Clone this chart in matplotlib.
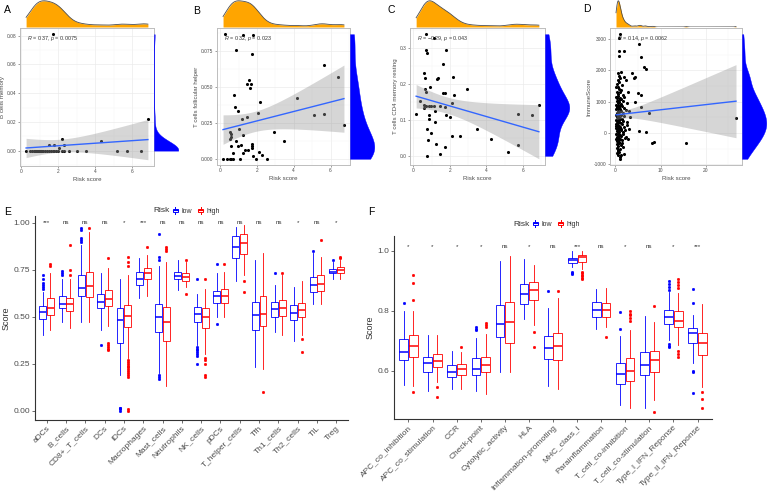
import numpy as np
import matplotlib
matplotlib.use("Agg")
import matplotlib.pyplot as plt
from matplotlib.patches import Rectangle, Patch
from matplotlib.lines import Line2D
from matplotlib.legend_handler import HandlerBase
from matplotlib.ticker import AutoMinorLocator, FormatStrFormatter

W, H = 768, 499
LOW = "#0000FF"
HIGH = "#FF0000"
TXT = "#4D4D4D"

# ---- scatter panels (A-D) ----
a_x = [1.70, 6.85, 4.30, 2.19, 2.33, 1.52, 1.79, 2.06,
       0.27, 0.5, 0.6, 0.7, 0.75, 0.8, 0.85, 0.9, 0.95, 1.0, 1.05, 1.1, 1.15, 1.2,
       1.3, 1.4, 1.5, 1.6, 1.7, 1.8, 1.9, 2.0, 2.2, 2.3, 2.6, 3.0, 3.5, 5.2, 5.7, 6.5]
a_y = [0.081, 0.0217, 0.0067, 0.008, 0.0041, 0.0037, 0.0041, 0.002,
       0, 0, 0, 0, 0, 0, 0, 0, 0, 0, 0, 0, 0, 0,
       0, 0, 0, 0, 0, 0, 0, 0, 0, 0, 0, 0, 0, 0, 0, 0]

b_x = [0.24, 1.21, 1.79, 0.88, 1.74, 5.63, 6.40, 1.57, 1.66, 1.43, 1.61, 0.77, 2.16, 4.20,
       0.79, 0.97, 2.07, 1.48, 1.19, 5.12, 5.63, 6.73, 1.02, 0.51, 0.60, 2.93, 0.60, 0.55,
       3.44, 0.88, 1.21, 1.15, 0.60, 0.97, 1.70, 1.74, 1.37, 1.52, 2.08, 0.69, 1.24, 2.25,
       1.76, 1.70, 0.15, 0.37, 0.51, 0.60, 0.69, 1.06, 1.97, 2.52]
b_y = [0.0868, 0.086, 0.086, 0.076, 0.073, 0.0656, 0.0568, 0.0547, 0.0524, 0.0524, 0.0495,
       0.0446, 0.0396, 0.0422, 0.0363, 0.0333, 0.0321, 0.0292, 0.0278, 0.0304, 0.0309, 0.0236,
       0.0208, 0.0189, 0.0175, 0.0184, 0.0153, 0.0137, 0.0123, 0.0127, 0.0165, 0.0099, 0.0087,
       0.0087, 0.0106, 0.009, 0.0061, 0.0061, 0.0047, 0.0042, 0.0038, 0.0028, 0.0019, 0.0075,
       0, 0, 0, 0, 0, 0, 0, 0]

c_x = [0.16, 0.72, 1.11, 0.72, 0.75, 1.80, 1.62, 0.61, 0.63, 1.38, 1.29, 2.19, 0.93, 0.66,
       0.70, 1.60, 1.74, 2.94, 2.24, 0.39, 0.57, 0.72, 0.84, 0.97, 1.11, 1.47, 1.74, 2.10,
       0.57, 1.20, 0.84, 1.80, 2.01, 6.86, 5.73, 6.50, 0.88, 1.20, 3.48, 0.75, 0.79, 0.97,
       2.14, 2.55, 4.25, 1.24, 1.74, 5.73, 1.47, 5.19, 0.75]
c_y = [0.117, 0.339, 0.329, 0.295, 0.287, 0.295, 0.255, 0.232, 0.218, 0.218, 0.214, 0.220,
       0.192, 0.187, 0.178, 0.175, 0.175, 0.185, 0.169, 0.152, 0.141, 0.140, 0.140, 0.140,
       0.140, 0.138, 0.135, 0.147, 0.133, 0.125, 0.114, 0.114, 0.109, 0.141, 0.116, 0.114,
       0.102, 0.095, 0.075, 0.075, 0.045, 0.064, 0.055, 0.055, 0.048, 0.033, 0.025, 0.029,
       0.005, 0.012, 0.0]

# dense cloud (grouped by score band) followed by the scattered points
d_x = [0.5, 0.8, 1.3, 2.0,
       0.35, 0.6, 0.9, 1.1, 1.5, 2.4,
       0.25, 0.45, 0.55, 0.7, 0.9, 1.05, 1.3, 1.7, 2.8,
       0.2, 0.3, 0.4, 0.5, 0.6, 0.75, 0.85, 1.0, 1.15, 1.35, 1.6, 2.0, 2.6,
       0.15, 0.25, 0.35, 0.4, 0.5, 0.55, 0.65, 0.7, 0.8, 0.9, 1.0, 1.1, 1.25, 1.4, 1.6, 1.9, 2.3, 3.0,
       0.15, 0.2, 0.3, 0.35, 0.4, 0.45, 0.5, 0.55, 0.6, 0.65, 0.7, 0.75, 0.8, 0.9, 1.0, 1.1, 1.2,
       1.3, 1.5, 1.75, 2.0, 2.5,
       0.15, 0.2, 0.25, 0.3, 0.4, 0.45, 0.5, 0.55, 0.6, 0.7, 0.75, 0.8, 0.9, 1.0, 1.1, 1.2, 1.3,
       1.4, 1.6, 1.9, 2.2, 2.6,
       0.2, 0.25, 0.35, 0.45, 0.5, 0.6, 0.7, 0.8, 0.9, 0.95, 1.1, 1.3, 1.5, 1.8, 2.1, 2.4,
       0.3, 0.4, 0.5, 0.6, 0.65, 0.8, 1.0, 1.2, 1.4, 1.6,
       0.4, 0.6, 0.8, 1.2,
       1.1, 0.9, 0.74, 1.85, 0.74, 5.2, 5.7, 6.4, 6.7, 3.6, 4.3, 4.1, 5.0, 5.7, 4.4, 5.6, 7.4,
       5.2, 6.7, 8.5, 8.1, 15.6, 26.7, 3.3, 3.0, 2.8, 1.85, 1.1, 1.0]
d_y = [1900, 1830, 1960, 1800,
       1560, 1700, 1620, 1750, 1530, 1680,
       1450, 1320, 1480, 1250, 1400, 1300, 1360, 1220, 1290,
       1150, 1020, 1100, 950, 1180, 1060, 980, 1120, 930, 1080, 1010, 1140, 960,
       880, 760, 820, 650, 700, 870, 620, 790, 840, 680, 760, 900, 710, 850, 640, 780, 720, 690,
       560, 420, 510, 380, 590, 330, 470, 540, 360, 450, 580, 400, 520, 350, 490, 430, 310,
       570, 440, 390, 530, 340,
       280, 150, 210, 60, 250, 130, 20, 190, 90, 260, 170, 40, 230, 110, 200, 80, 140,
       270, 30, 180, 100, 240,
       -50, -180, -120, -260, -90, -220, -30, -150, -280, -70, -200, -110, -240, -20, -160, -130,
       -350, -480, -420, -580, -560, -330, -510, -400, -310, -450,
       -650, -720, -620, -700,
       3150, 3040, 2610, 2600, 2470, 2830, 2410, 2110, 2050, 1920, 1780, 1740, 1270, 1220, 1000, 840, 650,
       76, 43, -283, -337, -326, 490, 510, 130, -196, -685, -826, -760]

# ---- panel E: immune cells ----
e_cats = ["aDCs", "B_cells", "CD8+_T_cells", "DCs", "iDCs", "Macrophages", "Mast_cells",
          "Neutrophils", "NK_cells", "pDCs", "T_helper_cells", "Tfh", "Th1_cells",
          "Th2_cells", "TIL", "Treg"]
e_sig = ["***", "ns", "ns", "ns", "*", "***", "ns", "ns", "ns", "ns", "ns", "ns", "ns", "*", "ns", "*"]
e_low_q1 = [0.49, 0.545, 0.61, 0.545, 0.36, 0.67, 0.42, 0.70, 0.47, 0.575, 0.815, 0.43, 0.50, 0.48, 0.63, 0.73]
e_low_med = [0.525, 0.57, 0.655, 0.58, 0.48, 0.70, 0.50, 0.715, 0.515, 0.61, 0.87, 0.51, 0.54, 0.52, 0.67, 0.74]
e_low_q3 = [0.555, 0.61, 0.72, 0.62, 0.545, 0.74, 0.57, 0.74, 0.55, 0.635, 0.93, 0.58, 0.58, 0.56, 0.71, 0.755]
e_low_lo = [0.40, 0.47, 0.47, 0.43, 0.19, 0.60, 0.20, 0.64, 0.35, 0.50, 0.69, 0.23, 0.42, 0.37, 0.57, 0.70]
e_low_hi = [0.63, 0.70, 0.88, 0.73, 0.70, 0.81, 0.77, 0.80, 0.62, 0.73, 0.98, 0.80, 0.67, 0.66, 0.84, 0.79]
e_low_out = [[0.65, 0.66, 0.67, 0.68, 0.70, 0.72], [0.72, 0.73, 0.745], [0.90, 0.91, 0.92, 0.96, 0.97],
             [0.35], [0.0, 0.008, 0.012, 0.015], [], [0.17, 0.18, 0.19, 0.80, 0.82, 0.94], [],
             [0.25, 0.29, 0.30, 0.31, 0.32, 0.33, 0.34, 0.70], [0.46, 0.78], [], [], [0.73], [],
             [0.85], [0.80]]
e_high_q1 = [0.51, 0.53, 0.605, 0.555, 0.445, 0.70, 0.37, 0.69, 0.44, 0.575, 0.835, 0.45, 0.505, 0.50, 0.635, 0.735]
e_high_med = [0.545, 0.565, 0.665, 0.595, 0.505, 0.73, 0.47, 0.71, 0.50, 0.61, 0.89, 0.515, 0.545, 0.535, 0.675, 0.75]
e_high_q3 = [0.60, 0.60, 0.74, 0.64, 0.56, 0.76, 0.55, 0.735, 0.545, 0.645, 0.94, 0.61, 0.59, 0.575, 0.72, 0.765]
e_high_lo = [0.43, 0.44, 0.47, 0.45, 0.28, 0.61, 0.13, 0.66, 0.30, 0.50, 0.72, 0.22, 0.40, 0.40, 0.57, 0.70]
e_high_hi = [0.73, 0.70, 0.95, 0.76, 0.72, 0.83, 0.79, 0.79, 0.65, 0.74, 0.99, 0.84, 0.72, 0.69, 0.82, 0.80]
e_high_out = [[0.77, 0.78], [0.72, 0.75, 0.88], [0.97], [0.32, 0.33, 0.34, 0.35, 0.36, 0.81],
              [0.0, 0.01, 0.18, 0.19, 0.20, 0.21, 0.22, 0.23, 0.24, 0.25, 0.26, 0.27, 0.77, 0.79, 0.82],
              [0.87], [0.85, 0.86, 0.87], [0.62, 0.80], [0.18, 0.19, 0.25, 0.27, 0.28, 0.70], [0.78],
              [0.63, 0.69], [0.10], [0.73], [0.31, 0.38], [0.91], [0.81, 0.82]]

# ---- panel F: immune functions ----
f_cats = ["APC_co_inhibition", "APC_co_stimulation", "CCR", "Check-point", "Cytolytic_activity",
          "HLA", "Inflammation-promoting", "MHC_class_I", "Parainflammation",
          "T_cell_co-inhibition", "T_cell_co-stimulation", "Type_I_IFN_Reponse", "Type_II_IFN_Reponse"]
f_sig = ["*", "*", "*", "*", "ns", "*", "ns", "***", "ns", "*", "ns", "*", "***"]
f_low_q1 = [0.636, 0.597, 0.578, 0.586, 0.711, 0.822, 0.639, 0.958, 0.778, 0.556, 0.586, 0.755, 0.691]
f_low_med = [0.663, 0.627, 0.596, 0.607, 0.755, 0.856, 0.675, 0.969, 0.802, 0.589, 0.619, 0.778, 0.725]
f_low_q3 = [0.705, 0.647, 0.619, 0.643, 0.818, 0.888, 0.716, 0.976, 0.829, 0.627, 0.663, 0.802, 0.743]
f_low_lo = [0.552, 0.533, 0.538, 0.533, 0.597, 0.771, 0.549, 0.947, 0.738, 0.486, 0.475, 0.702, 0.625]
f_low_hi = [0.800, 0.719, 0.666, 0.710, 0.966, 0.971, 0.810, 1.000, 0.871, 0.716, 0.782, 0.863, 0.786]
f_low_out = [[0.827], [], [], [0.735, 0.74, 0.745], [], [], [0.867], [0.921, 0.925, 0.93], [],
             [0.74, 0.797], [], [0.678, 0.683, 0.688, 0.869, 0.88, 0.89, 0.90],
             [0.525, 0.595, 0.60, 0.827, 0.872]]
f_high_q1 = [0.646, 0.613, 0.586, 0.596, 0.693, 0.836, 0.636, 0.962, 0.780, 0.567, 0.597, 0.745, 0.652]
f_high_med = [0.682, 0.632, 0.605, 0.619, 0.761, 0.869, 0.682, 0.978, 0.802, 0.599, 0.636, 0.767, 0.691]
f_high_q3 = [0.720, 0.655, 0.622, 0.647, 0.830, 0.897, 0.725, 0.986, 0.826, 0.641, 0.667, 0.798, 0.725]
f_high_lo = [0.550, 0.563, 0.538, 0.522, 0.597, 0.752, 0.538, 0.940, 0.747, 0.475, 0.502, 0.686, 0.545]
f_high_hi = [0.800, 0.720, 0.663, 0.722, 0.982, 0.952, 0.843, 1.000, 0.877, 0.736, 0.763, 0.858, 0.822]
f_high_out = [[0.529, 0.836, 0.891, 0.919], [0.513, 0.545], [0.678], [0.747, 0.752, 0.758], [],
              [0.678, 0.73], [0.867], [0.905, 0.91, 0.915, 0.92, 0.925, 0.93], [0.711],
              [0.767, 0.775, 0.785, 0.79, 0.80], [0.463, 0.816],
              [0.647, 0.655, 0.667, 0.875, 0.885, 0.895, 0.905], [0.477, 0.505, 0.53]]


def px_axes(fig, left, top, right, bottom):
    return fig.add_axes([left / W, 1 - bottom / H, (right - left) / W, (bottom - top) / H])


def kde(values, grid):
    # gaussian density, bw.nrd0 style bandwidth
    v = np.asarray(values, float)
    n = len(v)
    sd = v.std(ddof=1)
    q75, q25 = np.percentile(v, [75, 25])
    lo = min(sd, (q75 - q25) / 1.34) or sd
    bw = 0.9 * lo * n ** -0.2
    z = (grid[:, None] - v[None, :]) / bw
    return np.exp(-0.5 * z ** 2).sum(axis=1) / (n * bw * np.sqrt(2 * np.pi))


def scatter_panel(fig, box, xs, ys, ylabel, stat, xticks, yticks, yfmt):
    left, top, right, bottom = box
    ax = px_axes(fig, left, top, right, bottom)
    xs = np.asarray(xs, float)
    ys = np.asarray(ys, float)
    n = len(xs)
    slope, icpt = np.polyfit(xs, ys, 1)
    gx = np.linspace(xs.min(), xs.max(), 100)
    fit = icpt + slope * gx
    s = np.sqrt(((ys - (icpt + slope * xs)) ** 2).sum() / (n - 2))
    sxx = ((xs - xs.mean()) ** 2).sum()
    se = s * np.sqrt(1 / n + (gx - xs.mean()) ** 2 / sxx)
    t = 1.96 + (1.96 ** 3 + 1.96) / (4 * (n - 2))
    ax.scatter(xs, ys, s=5, color="black", lw=0, zorder=2)
    ax.fill_between(gx, fit - t * se, fit + t * se, color="#999999", alpha=0.4, lw=0, zorder=3)
    ax.plot(gx, fit, color="#3366FF", lw=1.0, zorder=4)
    ax.set_xticks(xticks)
    ax.set_yticks(yticks)
    ax.yaxis.set_major_formatter(FormatStrFormatter(yfmt))
    ax.xaxis.set_minor_locator(AutoMinorLocator(2))
    ax.yaxis.set_minor_locator(AutoMinorLocator(2))
    ax.grid(which="major", color="#EBEBEB", lw=0.5, zorder=0)
    ax.grid(which="minor", color="#F4F4F4", lw=0.3, zorder=0)
    ax.set_axisbelow(True)
    for sp in ax.spines.values():
        sp.set_color("#BDBDBD")
        sp.set_linewidth(0.7)
    ax.tick_params(which="major", length=1.5, width=0.4, color="#555555", pad=1,
                   labelsize=3.5, labelcolor=TXT)
    ax.tick_params(which="minor", length=0)
    ax.set_xlabel("Risk score", fontsize=4.4, color=TXT, labelpad=1.5)
    ax.set_ylabel(ylabel, fontsize=4.4, color=TXT, labelpad=1.5)
    ax.text(0.05, 0.925, stat, transform=ax.transAxes, fontsize=3.9, color="#333333",
            ha="left", va="center", zorder=5)

    # marginal densities
    xl, yl = ax.get_xlim(), ax.get_ylim()
    top_ax = px_axes(fig, left, 0, right, top - 1)
    gxx = np.linspace(xs.min(), xs.max(), 512)
    dx = kde(xs, gxx)
    top_ax.fill_between(gxx, 0, dx, color="#FFA500", lw=0)
    top_ax.plot(gxx, dx, color="#4D4D4D", lw=0.6)
    top_ax.set_xlim(xl)
    top_ax.set_ylim(0, dx.max() * 1.03)
    top_ax.axis("off")

    side_ax = px_axes(fig, right, top, right + 25, bottom)
    gyy = np.linspace(ys.min(), ys.max(), 512)
    dy = kde(ys, gyy)
    side_ax.fill_betweenx(gyy, 0, dy, color=LOW, lw=0.3, edgecolor=LOW)
    side_ax.set_ylim(yl)
    side_ax.set_xlim(0, dy.max() * 1.03)
    side_ax.axis("off")
    return ax


class BoxGlyph(HandlerBase):
    def create_artists(self, legend, orig_handle, xdescent, ydescent, width, height, fontsize, trans):
        c = orig_handle.get_edgecolor()
        x0, y0 = -xdescent, -ydescent
        cx = x0 + width / 2
        rect = Rectangle((x0 + 0.1 * width, y0 + 0.2 * height), 0.8 * width, 0.6 * height,
                         facecolor="white", edgecolor=c, lw=0.7, transform=trans)
        med = Line2D([x0 + 0.1 * width, x0 + 0.9 * width], [y0 + 0.5 * height] * 2,
                     color=c, lw=0.8, transform=trans)
        w1 = Line2D([cx, cx], [y0 - 0.1 * height, y0 + 0.2 * height], color=c, lw=0.7, transform=trans)
        w2 = Line2D([cx, cx], [y0 + 0.8 * height, y0 + 1.1 * height], color=c, lw=0.7, transform=trans)
        return [rect, med, w1, w2]


def risk_legend(fig, x_left, y_mid):
    fig.text(x_left / W, 1 - y_mid / H, "Risk", fontsize=6, color="#333333", ha="left", va="center")
    handles = [Patch(facecolor="white", edgecolor=LOW), Patch(facecolor="white", edgecolor=HIGH)]
    fig.legend(handles, ["low", "high"], loc="center left",
               bbox_to_anchor=((x_left + 19) / W, 1 - y_mid / H), ncol=2, frameon=False,
               fontsize=5, handlelength=1.0, handleheight=0.9, handletextpad=0.4,
               columnspacing=0.7, borderpad=0, borderaxespad=0, labelcolor="#333333",
               handler_map={Patch: BoxGlyph()})


def box_stats(q1, med, q3, lo, hi, out):
    return [dict(q1=a, med=b, q3=c, whislo=d, whishi=e, fliers=f)
            for a, b, c, d, e, f in zip(q1, med, q3, lo, hi, out)]


def box_panel(fig, box, cats, low, high, sig, ylim, yticks, yfmt, star_y):
    ax = px_axes(fig, *box)
    pos = np.arange(1, len(cats) + 1)
    for stats, off, col in ((low, -0.2, LOW), (high, 0.2, HIGH)):
        ax.bxp(stats, positions=pos + off, widths=0.36, showcaps=False, patch_artist=True,
               boxprops=dict(facecolor="white", edgecolor=col, lw=0.6),
               whiskerprops=dict(color=col, lw=0.6),
               medianprops=dict(color=col, lw=1.1),
               flierprops=dict(marker="o", markerfacecolor=col, markeredgecolor=col,
                               markersize=2.0, markeredgewidth=0.2))
    for p, s in zip(pos, sig):
        ax.text(p, star_y, s, ha="center", va="center", fontsize=4.5, color="#333333")
    ax.set_xlim(0.4, len(cats) + 0.6)
    ax.set_ylim(*ylim)
    ax.set_yticks(yticks)
    ax.yaxis.set_major_formatter(FormatStrFormatter(yfmt))
    ax.set_xticks(pos)
    ax.set_xticklabels(cats, rotation=45, ha="right", rotation_mode="anchor")
    for side in ("top", "right"):
        ax.spines[side].set_visible(False)
    for side in ("left", "bottom"):
        ax.spines[side].set_color("#333333")
        ax.spines[side].set_linewidth(0.8)
    ax.tick_params(length=2, width=0.5, color="#333333", labelsize=6, labelcolor=TXT, pad=1.5)
    ax.set_ylabel("Score", fontsize=6.5, color="#333333", labelpad=2)
    return ax


def main():
    plt.rcParams.update({
        "font.family": ["Liberation Sans", "DejaVu Sans"],
        "mathtext.fontset": "custom",
        "mathtext.rm": "Liberation Sans",
        "mathtext.it": "Liberation Sans:italic",
    })
    fig = plt.figure(figsize=(W / 100, H / 100), dpi=100)

    scatter_panel(fig, (20, 28, 154, 166), a_x, a_y, "B cells memory",
                  r"$\it{R}$ = 0.37, $\it{p}$ = 0.0075", [0, 2, 4, 6],
                  [0, 0.02, 0.04, 0.06, 0.08], "%.2f")
    scatter_panel(fig, (217, 28, 350, 165), b_x, b_y, "T cells follicular helper",
                  r"$\it{R}$ = 0.32, $\it{p}$ = 0.023", [0, 2, 4, 6],
                  [0, 0.025, 0.05, 0.075], "%.3f")
    scatter_panel(fig, (410, 28, 545, 165), c_x, c_y, "T cells CD4 memory resting",
                  "$\\it{R}$ = \u22120.29, $\\it{p}$ = 0.043",
                  [0, 2, 4, 6], [0, 0.1, 0.2, 0.3], "%.1f")
    scatter_panel(fig, (610, 28, 742, 165), d_x, d_y, "ImmuneScore",
                  r"$\it{R}$ = 0.14, $\it{p}$ = 0.0062", [0, 10, 20],
                  [-1000, 0, 1000, 2000, 3000], "%d")

    box_panel(fig, (35, 216, 348, 420), e_cats,
              box_stats(e_low_q1, e_low_med, e_low_q3, e_low_lo, e_low_hi, e_low_out),
              box_stats(e_high_q1, e_high_med, e_high_q3, e_high_lo, e_high_hi, e_high_out),
              e_sig, (-0.05, 1.036), [0, 0.25, 0.5, 0.75, 1.0], "%.2f", 1.0)
    box_panel(fig, (394, 236, 712, 419), f_cats,
              box_stats(f_low_q1, f_low_med, f_low_q3, f_low_lo, f_low_hi, f_low_out),
              box_stats(f_high_q1, f_high_med, f_high_q3, f_high_lo, f_high_hi, f_high_out),
              f_sig, (0.439, 1.049), [0.6, 0.8, 1.0], "%.1f", 1.013)

    risk_legend(fig, 153, 211)
    risk_legend(fig, 513, 224)

    for letter, x, y in (("A", 4, 10), ("B", 193, 11), ("C", 388, 10), ("D", 583, 9),
                         ("E", 4, 212), ("F", 368, 212)):
        fig.text(x / W, 1 - y / H, letter, fontsize=7.5, ha="left", va="center", color="black")

    fig.savefig("out.png", dpi=100, facecolor="white")
    plt.close(fig)


if __name__ == "__main__":
    main()
